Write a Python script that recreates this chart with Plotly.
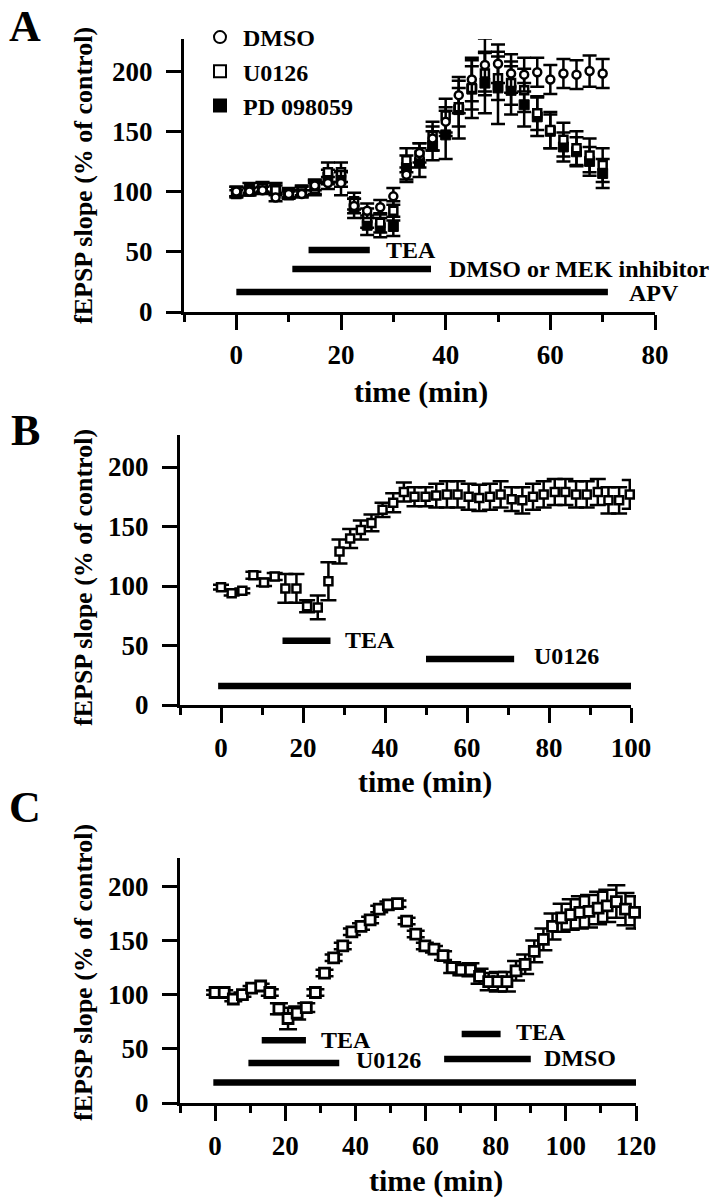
import plotly.graph_objects as go

W, H = 724, 1199
FONT = "Liberation Serif"

# ---------------- Panel A data ----------------
a_time = [0, 2.5, 5, 7.5, 10, 12.5, 15, 17.5, 20, 22.5, 25, 27.5, 30, 32.5, 35,
          37.5, 40, 42.5, 45, 47.5, 50, 52.5, 55, 57.5, 60, 62.5, 65, 67.5, 70]
a_dmso = [100, 100, 101, 95, 98, 98, 105, 107, 107, 88, 84, 87, 96, 114, 132,
          144, 158, 180, 193, 205, 206, 198, 197, 199, 193, 198, 197, 200, 198]
a_dmso_err = [4, 3, 3, 3, 3, 3, 4, 5, 10, 6, 6, 6, 7, 6, 8,
              10, 12, 15, 18, 22, 16, 16, 14, 12, 12, 12, 12, 13, 12]
a_u0126 = [98, 100, 103, 101, 97, 100, 102, 116, 116, 92, 78, 74, 84, 126, 130,
           146, 163, 170, 186, 198, 194, 190, 184, 165, 151, 143, 136, 130, 122]
a_u0126_err = [3, 3, 4, 4, 3, 4, 5, 8, 8, 7, 8, 8, 8, 10, 10,
               12, 14, 16, 18, 18, 18, 18, 18, 14, 15, 14, 14, 14, 14]
a_pd = [100, 103, 104, 103, 99, 101, 104, 112, 110, 86, 72, 70, 71, 120, 124,
        138, 147, 168, 185, 190, 186, 184, 172, 162, 150, 137, 133, 125, 115]
a_pd_err = [4, 4, 4, 4, 4, 4, 6, 6, 6, 8, 8, 8, 8, 10, 12,
            12, 20, 24, 24, 25, 30, 20, 18, 16, 14, 12, 12, 12, 12]
a_bar_labels = ["TEA", "DMSO or MEK inhibitor", "APV"]
a_bar_start = [13.8, 10.7, 0]
a_bar_end = [25.5, 37.2, 71]
a_bar_level = [51.5, 35.7, 16.5]
a_label_x = [28.4, 40.4, 74.9]
a_label_y = [51.5, 35.5, 16.0]

# ---------------- Panel B data ----------------
b_time = [0, 2.6, 5.2, 7.9, 10.5, 13.1, 15.7, 18.4, 21.0, 23.6, 26.2, 28.9, 31.5,
          34.1, 36.7, 39.4, 42.0, 44.6, 47.2, 49.9, 52.5, 55.1, 57.7, 60.4, 63.0,
          65.6, 68.2, 70.9, 73.5, 76.1, 78.7, 81.4, 84.0, 86.6, 89.2, 91.9, 94.5,
          97.1, 99.7, 102.4]
b_u0126 = [99, 94, 96, 109, 103, 108, 98, 98, 83, 82, 104, 129, 140, 147, 153, 164,
           170, 179, 175, 175, 176, 177, 177, 175, 174, 175, 177, 173, 172, 175,
           177, 179, 179, 177, 177, 179, 172, 172, 177, 179]
b_u0126_err = [2, 2, 2, 3, 3, 3, 12, 12, 5, 10, 16, 10, 8, 8, 7, 6,
               8, 8, 8, 8, 10, 11, 11, 11, 11, 11, 11, 10, 11, 11,
               11, 11, 11, 11, 11, 11, 11, 11, 12, 16]
b_bar_labels = ["TEA", "U0126", "APV"]
b_bar_start = [15.0, 50.0, -0.7]
b_bar_end = [26.7, 71.5, 100]
b_bar_level = [54, 38.6, 16]
b_label_x = [30, 76, 103.7]
b_label_y = [55, 41, 16]

# ---------------- Panel C data ----------------
c_time = [0, 2.6, 5.2, 7.8, 10.4, 13.0, 15.6, 18.2, 20.8, 23.4, 26.0, 28.6, 31.2,
          33.8, 36.4, 39.0, 41.6, 44.2, 46.8, 49.4, 52.0, 54.6, 57.2, 59.8, 62.4,
          65.0, 67.6, 70.2, 72.8, 75.4, 78.0, 80.6, 83.2, 85.8, 88.4, 91.0, 93.6,
          96.2, 98.8, 101.4, 104.0, 106.6, 109.2, 111.8, 114.4, 117.0, 119.6,
          122.2, 124.8]
c_u0126 = [102, 102, 96, 100, 106, 108, 102, 87, 78, 83, 88, 102, 120, 134, 145,
           158, 163, 169, 179, 183, 184, 168, 156, 145, 142, 136, 125, 123, 123,
           117, 112, 112, 112, 122, 128, 140, 151, 163, 171, 174, 176, 177, 180,
           182, 186, 179, 176, 176, 179]
c_u0126_err = [2, 2, 2, 2, 2, 2, 3, 5, 10, 6, 4, 3, 3, 3, 3,
               3, 3, 3, 3, 3, 3, 3, 3, 3, 3, 4, 5, 5, 6,
               7, 8, 9, 9, 9, 9, 10, 10, 12, 13, 14, 15, 15, 15,
               15, 15, 15, 15, 15, 15]
c_bar_labels = ["TEA", "U0126", "TEA", "DMSO", "APV"]
c_bar_start = [13.3, 9.5, 70.3, 65.3, -0.5]
c_bar_end = [25.9, 35.4, 81.4, 90.0, 120]
c_bar_level = [58, 37, 63.7, 40.6, 19]
c_label_x = [29.9, 39.9, 85.5, 93.4, 124]
c_label_y = [58.6, 39.7, 65.5, 42, 21]

x_title = "time (min)"
y_title = "fEPSP slope (% of control)"
panel_letters = ["A", "B", "C"]

# ---------------- layout geometry (page pixels) ----------------
panels = [
    dict(x0=184, x1=655, ytop=39, ybot=312, xr=[-10, 80], ymax=226.6,
         xtitle=(421, 392), ytitle=(83, 176), letter=(25, 26)),
    dict(x0=180, x1=631, ytop=435, ybot=705, xr=[-10, 100], ymax=226.9,
         xtitle=(425, 782), ytitle=(83, 578), letter=(25, 430)),
    dict(x0=180, x1=636, ytop=858, ybot=1103, xr=[-10, 120], ymax=226.2,
         xtitle=(436, 1181), ytitle=(83, 973), letter=(25, 807)),
]

def px(xp):
    return xp / W

def py(yp):
    return 1 - yp / H

fig = go.Figure()

def err(arr, w):
    return dict(type="data", array=arr, visible=True, color="black",
                thickness=2.5, width=w)

# Panel A traces
fig.add_trace(go.Scatter(x=a_time, y=a_pd, mode="markers", name="PD 098059",
                         marker=dict(symbol="square", size=10, color="black",
                                     line=dict(color="black", width=1)),
                         error_y=err(a_pd_err, 7), xaxis="x", yaxis="y"))
fig.add_trace(go.Scatter(x=a_time, y=a_u0126, mode="markers", name="U0126",
                         marker=dict(symbol="square", size=8, color="white",
                                     line=dict(color="black", width=2.5)),
                         error_y=err(a_u0126_err, 7), xaxis="x", yaxis="y"))
fig.add_trace(go.Scatter(x=a_time, y=a_dmso, mode="markers", name="DMSO",
                         marker=dict(symbol="circle", size=8, color="white",
                                     line=dict(color="black", width=2.5)),
                         error_y=err(a_dmso_err, 7), xaxis="x", yaxis="y"))

# Panel B
fig.add_trace(go.Scatter(x=b_time, y=b_u0126, mode="markers", showlegend=False,
                         cliponaxis=False,
                         marker=dict(symbol="square", size=8, color="white",
                                     line=dict(color="black", width=2.5)),
                         error_y=err(b_u0126_err, 8), xaxis="x2", yaxis="y2"))
# Panel C
fig.add_trace(go.Scatter(x=c_time, y=c_u0126, mode="markers", showlegend=False,
                         cliponaxis=False,
                         marker=dict(symbol="square", size=10, color="white",
                                     line=dict(color="black", width=2.8)),
                         error_y=err(c_u0126_err, 9), xaxis="x3", yaxis="y3"))

# treatment bars + labels
bar_sets = [
    (a_bar_labels, a_bar_start, a_bar_end, a_bar_level, a_label_x, a_label_y, "x", "y"),
    (b_bar_labels, b_bar_start, b_bar_end, b_bar_level, b_label_x, b_label_y, "x2", "y2"),
    (c_bar_labels, c_bar_start, c_bar_end, c_bar_level, c_label_x, c_label_y, "x3", "y3"),
]
annotations = []
for labels, starts, ends, levels, lx, ly, xa, ya in bar_sets:
    for lab, s, e, lv, tx, ty in zip(labels, starts, ends, levels, lx, ly):
        fig.add_trace(go.Scatter(x=[s, e], y=[lv, lv], mode="lines",
                                 line=dict(color="black", width=6.5),
                                 showlegend=False, cliponaxis=False,
                                 hoverinfo="skip", xaxis=xa, yaxis=ya))
        annotations.append(dict(x=tx, y=ty, xref=xa, yref=ya, text=lab,
                                showarrow=False, xanchor="left", yanchor="middle",
                                borderpad=0,
                                font=dict(family=FONT, size=24, color="black",
                                          weight="bold")))

layout = dict(
    width=W, height=H, margin=dict(l=0, r=0, t=0, b=0),
    paper_bgcolor="white", plot_bgcolor="white",
    showlegend=True,
    legend=dict(x=px(197), y=py(15), xanchor="left", yanchor="top",
                font=dict(family=FONT, size=24, color="black", weight="bold"),
                traceorder="reversed", bgcolor="rgba(0,0,0,0)",
                itemsizing="constant", tracegroupgap=0, itemwidth=36),
)

axnames = [("xaxis", "yaxis", "x", "y"), ("xaxis2", "yaxis2", "x2", "y2"),
           ("xaxis3", "yaxis3", "x3", "y3")]
tickfont = dict(family=FONT, size=27, color="black", weight="bold")
for p, (xn, yn, xa, ya), letter in zip(panels, axnames, panel_letters):
    layout[xn] = dict(
        domain=[px(p["x0"]), px(p["x1"])], range=p["xr"], anchor=ya,
        showline=True, linewidth=3, linecolor="black", showgrid=False,
        zeroline=False, ticks="outside", ticklen=15, tickwidth=3,
        tickcolor="black", tick0=0, dtick=20, tickfont=tickfont,
        ticklabelstandoff=2, automargin=False,
        minor=dict(ticks="outside", ticklen=7, tickwidth=3, tickcolor="black",
                   dtick=10, tick0=0, showgrid=False),
    )
    layout[yn] = dict(
        domain=[py(p["ybot"]), py(p["ytop"])], range=[0, p["ymax"]],
        anchor=xa, showline=True, linewidth=3, linecolor="black",
        showgrid=False, zeroline=False, ticks="outside", ticklen=15,
        tickwidth=3, tickcolor="black", tick0=0, dtick=50, tickfont=tickfont,
        ticklabelstandoff=8, automargin=False,
    )
    annotations.append(dict(x=px(p["xtitle"][0]), y=py(p["xtitle"][1]),
                            xref="paper", yref="paper", text=x_title,
                            showarrow=False, xanchor="center", yanchor="middle",
                            font=dict(family=FONT, size=30, color="black",
                                      weight="bold")))
    annotations.append(dict(x=px(p["ytitle"][0]), y=py(p["ytitle"][1]),
                            xref="paper", yref="paper", text=y_title,
                            textangle=-90, showarrow=False, xanchor="center",
                            yanchor="middle",
                            font=dict(family=FONT, size=26, color="black",
                                      weight="bold")))
    annotations.append(dict(x=px(p["letter"][0]), y=py(p["letter"][1]),
                            xref="paper", yref="paper", text=letter,
                            showarrow=False, xanchor="center", yanchor="middle",
                            borderpad=0,
                            font=dict(family=FONT, size=44, color="black",
                                      weight="bold")))

layout["annotations"] = annotations
fig.update_layout(**layout)
# remove the browser's default page margin so the figure fills the window
fig.write_html("out.html",
               config={"displayModeBar": False},
               post_script="document.body.style.margin='0';"
                           "document.body.style.overflow='hidden';")
